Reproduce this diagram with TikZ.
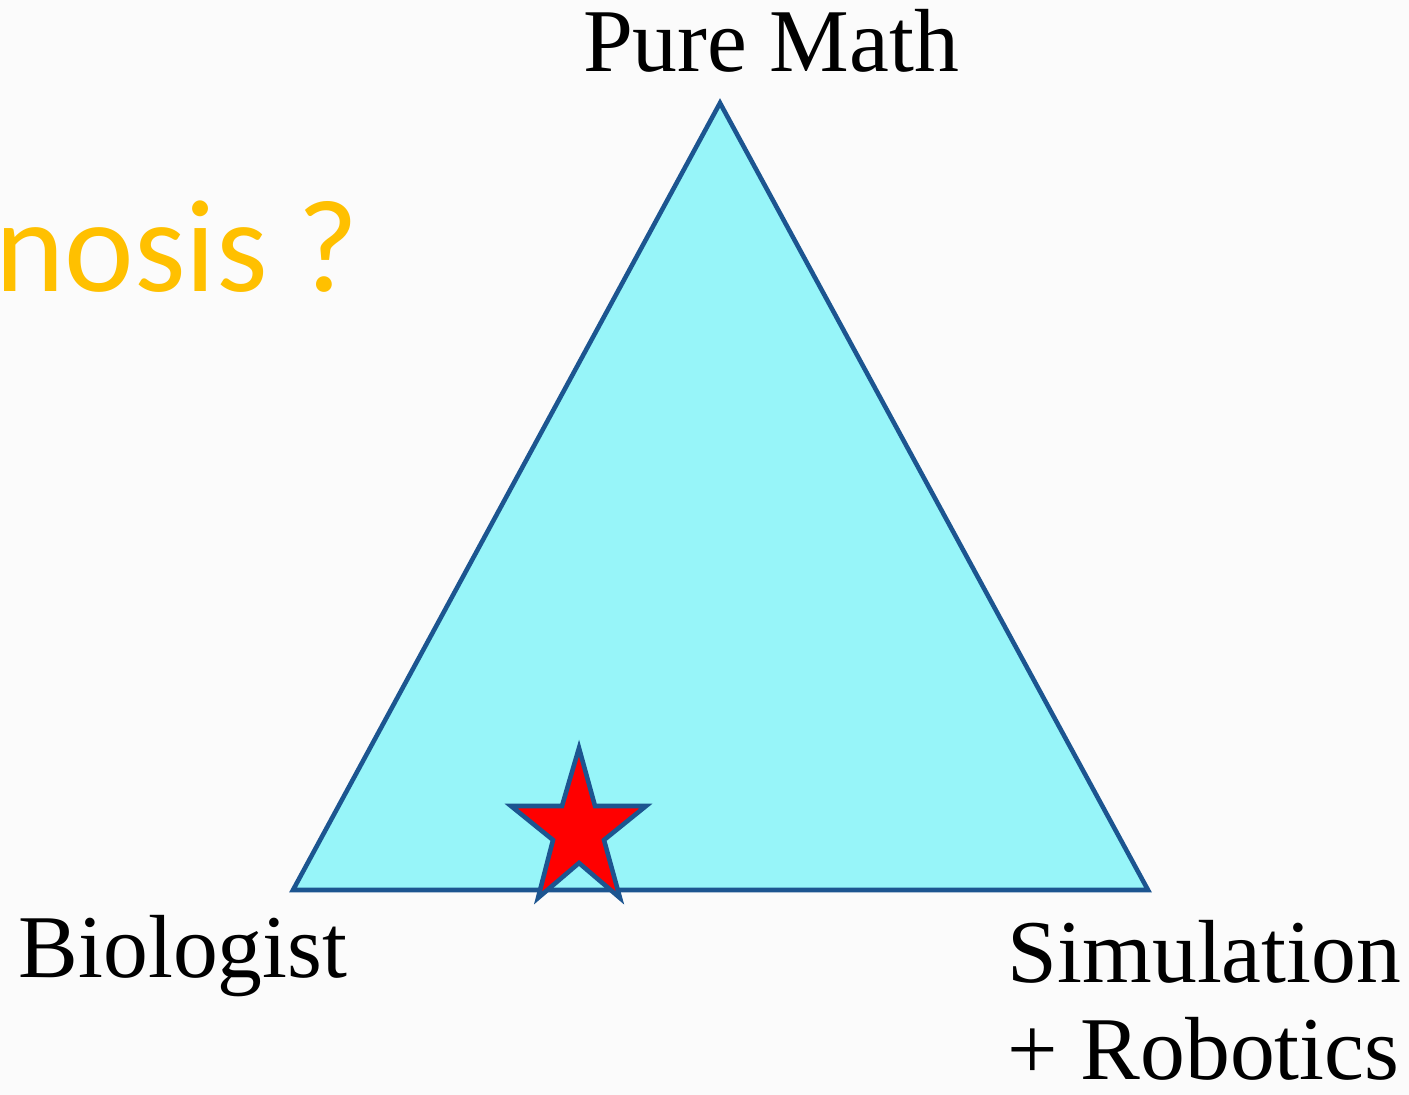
\documentclass[tikz,border=0pt]{standalone}
\usepackage{fontspec}
\usepackage{tikz}
\usetikzlibrary{positioning, calc}
\setmainfont{Liberation Serif}
\newfontfamily\slidesans{Carlito}
\definecolor{edgeblue}{HTML}{1C5590}
\definecolor{triafill}{HTML}{97F5F9}
\definecolor{titleorange}{HTML}{FFC000}
\definecolor{paper}{HTML}{FBFBFB}

\begin{document}
\begin{tikzpicture}[
  corner/.style={font=\fontsize{25.5}{27.5}\selectfont, inner sep=0pt, text=black},
  teaser/.style={font=\slidesans\fontsize{37.5}{40}\selectfont, text=titleorange, inner sep=0pt},
  tri/.style={draw=edgeblue, line width=1.3pt, fill=triafill, line join=miter},
  starshape/.style={draw=edgeblue, line width=1.3pt, fill=red, line join=miter}
]
  \useasboundingbox[fill=paper] (0,0) rectangle (14.09,-10.95);
  \clip (0,0) rectangle (14.09,-10.95);

  % Corners
  \coordinate (top)   at (7.20,-1.03);
  \coordinate (left)  at (2.93,-8.90);
  \coordinate (right) at (11.48,-8.90);

  \draw[tri] (top) -- (right) -- (left) -- cycle;

  % Star on the bottom edge
  \draw[starshape] (5.79,-7.48) -- (5.95,-8.06) -- (6.46,-8.06) -- (6.04,-8.40)
    -- (6.20,-8.98) -- (5.79,-8.63) -- (5.38,-8.98) -- (5.53,-8.40)
    -- (5.11,-8.06) -- (5.62,-8.06) -- cycle;

  % Labels
  \node[corner, anchor=base] (math) at (7.71,-0.72) {Pure Math};
  \node[corner, anchor=base west] (bio) at (0.18,-9.77) {Biologist};
  \node[corner, anchor=north west, align=left] (sim) at (10.07,-9.20) {Simulation\\+ Robotics};
  \node[teaser, anchor=base west] (diag) at (-0.05,-2.92) {nosis ?};
\end{tikzpicture}
\end{document}
